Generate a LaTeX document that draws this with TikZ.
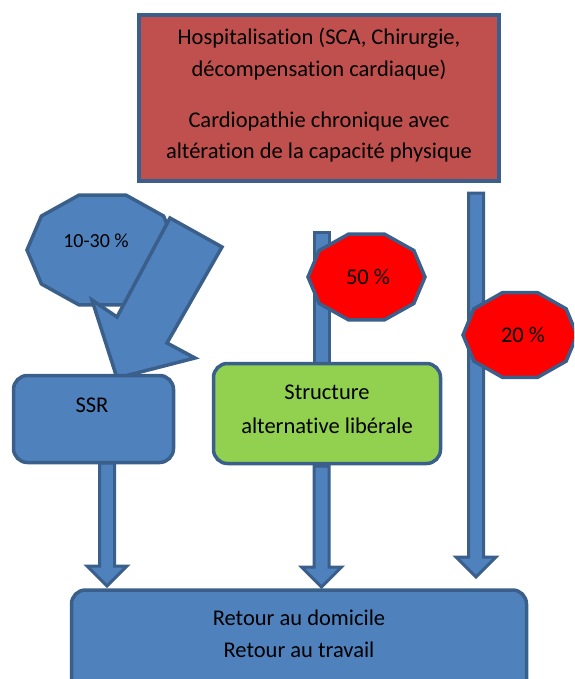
\documentclass[tikz,border=0pt]{standalone}
\usepackage{fontspec}
\setmainfont{Carlito}[RawFeature=-liga]
\usetikzlibrary{calc}
\definecolor{bfill}{HTML}{4F81BD}
\definecolor{bline}{HTML}{3A5F8B}
\definecolor{rbox}{HTML}{C0504D}
\definecolor{gbox}{HTML}{92D050}
\definecolor{rdec}{HTML}{FF0000}
\tikzset{
  boxsty/.style={draw=bline, line width=3.5pt, inner sep=0pt},
  roundbox/.style={boxsty, rounded corners=14pt},
  arr/.style={fill=bfill, draw=bline, line width=3pt, line join=miter},
  txt/.style={font=\fontsize{22.5}{31}\selectfont, inner sep=0pt, anchor=base},
  txts/.style={font=\fontsize{20}{28}\selectfont, inner sep=0pt, anchor=base},
}
\newcommand{\dnarrow}[2]{%
  \path[arr] let \p1=(#1), \p2=(#2) in
    (\x1-7.5pt,\y1) -- (\x1+7.5pt,\y1) -- (\x1+7.5pt,\y2+20pt) -- (\x1+20pt,\y2+20pt)
    -- (\x1,\y2) -- (\x1-20pt,\y2+20pt) -- (\x1-7.5pt,\y2+20pt) -- cycle;}
\newcommand{\decagon}[5]{% center x, y, rx, ry, fill
  \path[draw=bline, line width=3.5pt, fill=#5, shift={(#1,#2)}]
    (0:#3 and #4) -- (36:#3 and #4) -- (72:#3 and #4) -- (108:#3 and #4) -- (144:#3 and #4)
    -- (180:#3 and #4) -- (216:#3 and #4) -- (252:#3 and #4) -- (288:#3 and #4) -- (324:#3 and #4) -- cycle;}
\begin{document}
\begin{tikzpicture}[x=1pt,y=-1pt]
\useasboundingbox (0,0) rectangle (574,679);
\clip (0,0) rectangle (574,679);

% top red box
\node[boxsty, fill=rbox, minimum width=360pt, minimum height=166pt] (hosp) at (319,98) {};
\node[txt] (h1) at (319,45) {Hospitalisation (SCA, Chirurgie,};
\node[txt] (h2) at (319,77) {décompensation cardiaque)};
\node[txt] (h3) at (319,128) {Cardiopathie chronique avec};
\node[txt] (h4) at (319,159) {altération de la capacité physique};

% 10-30 decagon and big arrow
\decagon{102.5}{250}{75.5}{57.8}{bfill}
\node[txts] (p1) at (96,247) {10-30 \%};
\path[arr, line width=3.5pt] (170,218) -- (222,247) -- (167,343) -- (195,358)
  -- (117,378) -- (92,300) -- (117,317) -- cycle;

% SSR box
\node[roundbox, fill=bfill, minimum width=160pt, minimum height=87pt] (ssr) at (93.5,419) {};
\node[txt] (ssrt) at (92,412) {SSR};

% middle upper shaft
\coordinate (m1) at (314,232);
\coordinate (m2) at (329,368);
\path[arr] (m1) rectangle (m2);

% structure box
\node[roundbox, fill=gbox, minimum width=227pt, minimum height=100pt] (sl) at (327,413.5) {};
\node[txt] (sl1) at (327,399) {Structure};
\node[txt] (sl2) at (327,433) {alternative libérale};

% 50 % decagon
\decagon{366.5}{277}{58.5}{45}{rdec}
\node[txt] (p2) at (368,284) {50 \%};

% right arrow and 20 % decagon
\coordinate (r1) at (476,193);
\coordinate (r2) at (476,577);
\dnarrow{r1}{r2}
\decagon{520}{335}{57}{44.5}{rdec}
\node[txt] (p3) at (523,342) {20 \%};

% lower arrows
\coordinate (l1) at (107,463);
\coordinate (l2) at (107,586);
\dnarrow{l1}{l2}
\coordinate (c1) at (321.5,466);
\coordinate (c2) at (321.5,587);
\dnarrow{c1}{c2}

% bottom box
\node[roundbox, fill=bfill, minimum width=455pt, minimum height=120pt] (home) at (299,650) {};
\node[txt] (ho1) at (299,625) {Retour au domicile};
\node[txt] (ho2) at (299,657) {Retour au travail};
\end{tikzpicture}
\end{document}
